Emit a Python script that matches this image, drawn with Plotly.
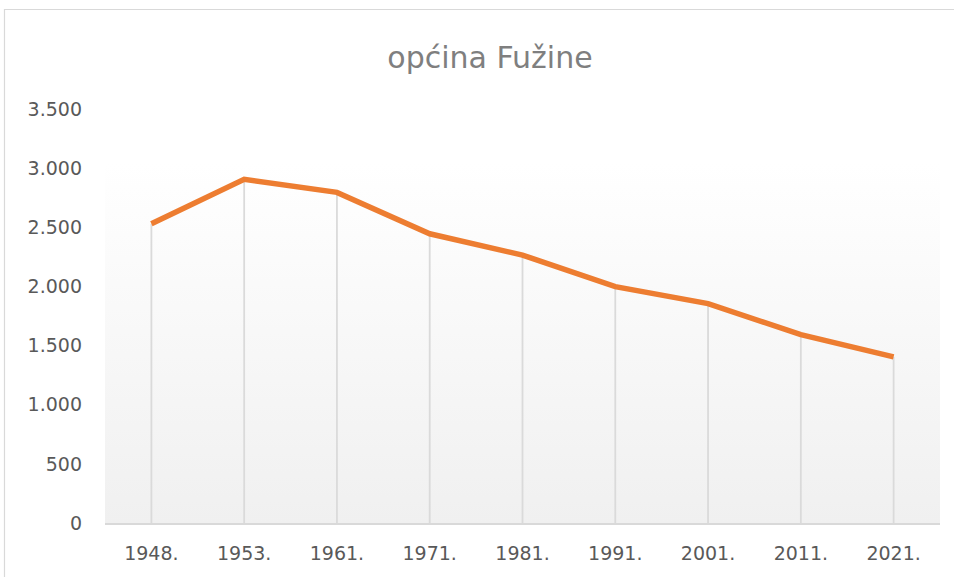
import plotly.graph_objects as go

# ---- data ----
years = ["1948.", "1953.", "1961.", "1971.", "1981.", "1991.", "2001.", "2011.", "2021."]
population = [2530, 2905, 2795, 2445, 2265, 1998, 1855, 1592, 1404]
title_text = "općina Fužine"
y_ticks = [0, 500, 1000, 1500, 2000, 2500, 3000, 3500]

W, H = 954, 577
L, R, T, B = 105, 14, 109, 54
plot_w = W - L - R
plot_h = H - T - B

# drop lines built from the data
drop_x, drop_y = [], []
for c, v in zip(years, population):
    drop_x += [c, c, None]
    drop_y += [0, v, None]

fig = go.Figure()
fig.add_trace(go.Scatter(
    x=drop_x, y=drop_y, mode="lines",
    line=dict(color="#dadada", width=1.8),
    hoverinfo="skip", showlegend=False,
))
fig.add_trace(go.Scatter(
    x=years, y=population, mode="lines",
    line=dict(color="#ED7D31", width=5.5, shape="linear"),
    showlegend=False,
))

grad_svg = (
    "data:image/svg+xml;utf8,"
    "<svg xmlns='http://www.w3.org/2000/svg' width='100' height='100' preserveAspectRatio='none'>"
    "<defs><linearGradient id='g' x1='0' y1='0' x2='0' y2='1'>"
    "<stop offset='0' stop-color='%23ffffff'/>"
    "<stop offset='1' stop-color='%23f0f0f0'/>"
    "</linearGradient></defs>"
    "<rect width='100' height='100' fill='url(%23g)'/></svg>"
)
grad_top = (H - B - 163) / plot_h

fig.update_layout(
    width=W, height=H,
    margin=dict(l=L, r=R, t=T, b=B),
    paper_bgcolor="white",
    plot_bgcolor="rgba(0,0,0,0)",
    separators=",.",
    title=dict(
        text=title_text,
        x=490 / W, xref="container", xanchor="center",
        y=1 - 57 / H, yref="container", yanchor="middle",
        font=dict(family="DejaVu Sans", size=30, color="#7f7f7f"),
    ),
    images=[dict(
        source=grad_svg, xref="paper", yref="paper",
        x=0, y=grad_top, sizex=1, sizey=grad_top,
        xanchor="left", yanchor="top", sizing="stretch", layer="below",
    )],
    shapes=[dict(
        type="rect", xref="paper", yref="paper",
        x0=(4.5 - L) / plot_w, x1=1.2,
        y0=-0.3, y1=(H - B - 9.5) / plot_h,
        line=dict(color="#d9d9d9", width=1.2), fillcolor="rgba(0,0,0,0)",
        layer="below",
    )],
    xaxis=dict(
        type="category", range=[-0.5, len(years) - 0.5],
        showgrid=False, zeroline=False,
        showline=True, linecolor="#d9d9d9", linewidth=1.5,
        ticks="", ticklabelstandoff=12,
        tickfont=dict(family="DejaVu Sans", size=19, color="#595959"),
    ),
    yaxis=dict(
        range=[0, 3500], tickvals=y_ticks, tickformat=",d",
        showgrid=False, zeroline=False, showline=False,
        ticks="", ticklabelstandoff=22,
        tickfont=dict(family="DejaVu Sans", size=19, color="#595959"),
    ),
)

fig.write_html(
    "out.html",
    config={"displayModeBar": False},
    post_script="document.body.style.margin='0';",
)
